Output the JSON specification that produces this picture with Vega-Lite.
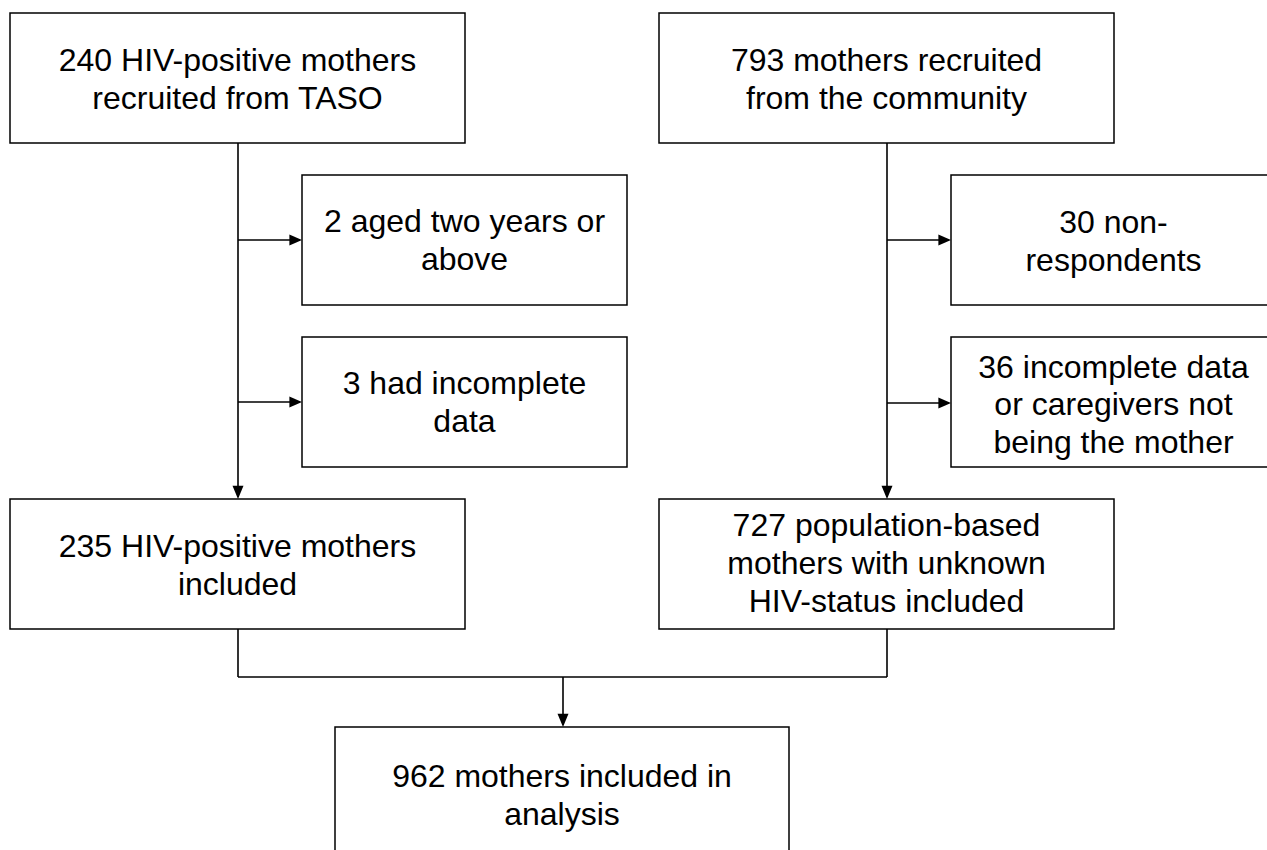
{
  "$schema": "https://vega.github.io/schema/vega-lite/v6.json",
  "width": 1267,
  "height": 850,
  "autosize": {"type": "fit", "contains": "padding"},
  "padding": 0,
  "background": "white",
  "config": {"view": {"stroke": null}},
  "datasets": {
    "boxes": [
      {"id": "b1", "x0": 10, "x1": 465, "y0": 13, "y1": 143},
      {"id": "b2", "x0": 659, "x1": 1114, "y0": 13, "y1": 143},
      {"id": "b3", "x0": 302, "x1": 627, "y0": 175, "y1": 305},
      {"id": "b4", "x0": 302, "x1": 627, "y0": 337, "y1": 467},
      {"id": "b5", "x0": 951, "x1": 1276, "y0": 175, "y1": 305},
      {"id": "b6", "x0": 951, "x1": 1276, "y0": 337, "y1": 467},
      {"id": "b7", "x0": 10, "x1": 465, "y0": 499, "y1": 629},
      {"id": "b8", "x0": 659, "x1": 1114, "y0": 499, "y1": 629},
      {"id": "b9", "x0": 335, "x1": 789, "y0": 727, "y1": 890}
    ],
    "lines": [
      {"x0": 238, "x1": 238, "y0": 143, "y1": 497},
      {"x0": 238, "x1": 300, "y0": 240, "y1": 240},
      {"x0": 238, "x1": 300, "y0": 402, "y1": 402},
      {"x0": 887, "x1": 887, "y0": 143, "y1": 497},
      {"x0": 887, "x1": 949, "y0": 240, "y1": 240},
      {"x0": 887, "x1": 949, "y0": 403, "y1": 403},
      {"x0": 238, "x1": 238, "y0": 629, "y1": 677},
      {"x0": 238, "x1": 887, "y0": 677, "y1": 677},
      {"x0": 887, "x1": 887, "y0": 629, "y1": 677},
      {"x0": 563, "x1": 563, "y0": 677, "y1": 725}
    ],
    "arrowsRight": [
      {"x": 302, "y": 240},
      {"x": 302, "y": 402},
      {"x": 951, "y": 240},
      {"x": 951, "y": 403}
    ],
    "arrowsDown": [
      {"x": 238, "y": 499},
      {"x": 887, "y": 499},
      {"x": 563, "y": 727}
    ],
    "labels": [
      {"t": "240 HIV-positive mothers", "x": 237.5, "y": 61},
      {"t": "recruited from TASO", "x": 237.5, "y": 99},
      {"t": "793 mothers recruited", "x": 886.5, "y": 61},
      {"t": "from the community", "x": 886.5, "y": 99},
      {"t": "2 aged two years or", "x": 464.5, "y": 222},
      {"t": "above", "x": 464.5, "y": 260},
      {"t": "3 had incomplete", "x": 464.5, "y": 384},
      {"t": "data", "x": 464.5, "y": 422},
      {"t": "30 non-", "x": 1113.5, "y": 223},
      {"t": "respondents", "x": 1113.5, "y": 261},
      {"t": "36 incomplete data", "x": 1113.5, "y": 368},
      {"t": "or caregivers not", "x": 1113.5, "y": 405},
      {"t": "being the mother", "x": 1113.5, "y": 443},
      {"t": "235 HIV-positive mothers", "x": 237.5, "y": 547},
      {"t": "included", "x": 237.5, "y": 585},
      {"t": "727 population-based", "x": 886.5, "y": 526},
      {"t": "mothers with unknown", "x": 886.5, "y": 564},
      {"t": "HIV-status included", "x": 886.5, "y": 602},
      {"t": "962 mothers included in", "x": 562, "y": 777},
      {"t": "analysis", "x": 562, "y": 815}
    ]
  },
  "layer": [
    {
      "data": {"name": "boxes"},
      "mark": {"type": "rect", "fill": "white", "stroke": "black", "strokeWidth": 1.5, "clip": true},
      "encoding": {
        "x": {"field": "x0", "type": "quantitative", "scale": {"domain": [0, 1267], "nice": false, "zero": false}, "axis": null},
        "x2": {"field": "x1"},
        "y": {"field": "y0", "type": "quantitative", "scale": {"domain": [0, 850], "nice": false, "zero": false, "reverse": true}, "axis": null},
        "y2": {"field": "y1"}
      }
    },
    {
      "data": {"name": "lines"},
      "mark": {"type": "rule", "color": "black", "strokeWidth": 1.6},
      "encoding": {
        "x": {"field": "x0", "type": "quantitative", "axis": null},
        "x2": {"field": "x1"},
        "y": {"field": "y0", "type": "quantitative", "axis": null},
        "y2": {"field": "y1"}
      }
    },
    {
      "data": {"name": "arrowsRight"},
      "mark": {"type": "point", "filled": true, "color": "black", "opacity": 1, "size": 121, "shape": "M0,0 L-2.3,-1 L-2.3,1 Z"},
      "encoding": {
        "x": {"field": "x", "type": "quantitative", "axis": null},
        "y": {"field": "y", "type": "quantitative", "axis": null}
      }
    },
    {
      "data": {"name": "arrowsDown"},
      "mark": {"type": "point", "filled": true, "color": "black", "opacity": 1, "size": 121, "shape": "M0,0 L-1,-2.4 L1,-2.4 Z"},
      "encoding": {
        "x": {"field": "x", "type": "quantitative", "axis": null},
        "y": {"field": "y", "type": "quantitative", "axis": null}
      }
    },
    {
      "data": {"name": "labels"},
      "mark": {"type": "text", "font": "Liberation Sans", "fontSize": 32, "color": "black", "align": "center", "baseline": "middle"},
      "encoding": {
        "x": {"field": "x", "type": "quantitative", "axis": null},
        "y": {"field": "y", "type": "quantitative", "axis": null},
        "text": {"field": "t", "type": "nominal"}
      }
    }
  ]
}
